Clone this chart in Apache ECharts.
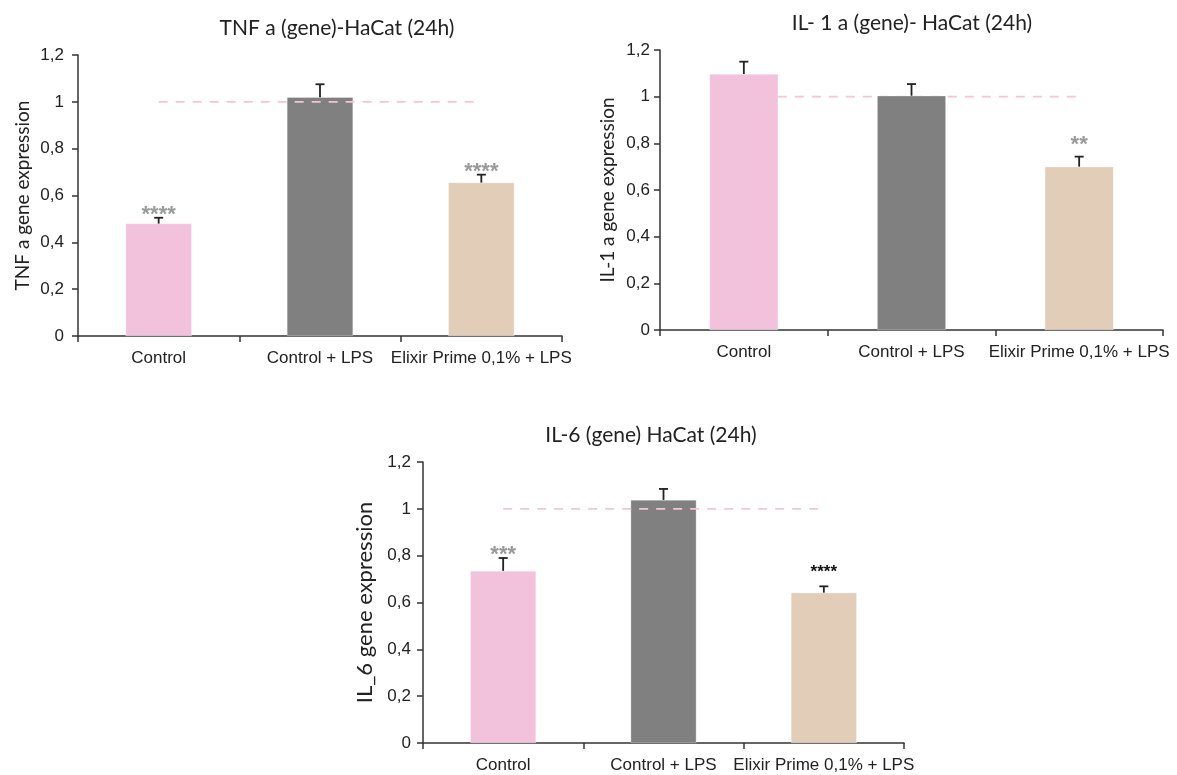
<!DOCTYPE html>
<html>
<head>
<meta charset="utf-8">
<script src="https://cdn.jsdelivr.net/npm/echarts@6/dist/echarts.min.js"></script>
<style>
html,body{margin:0;padding:0;background:#fff;}
#main{width:1177px;height:775px;}
</style>
</head>
<body>
<div id="main"></div>
<script>
// ---- data ----
const categories = ['Control', 'Control + LPS', 'Elixir Prime 0,1% + LPS'];
const yTickLabels = ['0', '0,2', '0,4', '0,6', '0,8', '1', '1,2'];
const refLevel = [1, 1, 1];

const tnfValues = [0.48, 1.02, 0.655];
const tnfErrors = [0.025, 0.055, 0.034];
const tnfSig = ['****', '', '****'];

const il1Values = [1.097, 1.004, 0.70];
const il1Errors = [0.053, 0.05, 0.043];
const il1Sig = ['', '', '**'];

const il6Values = [0.735, 1.038, 0.642];
const il6Errors = [0.055, 0.047, 0.027];
const il6Sig = ['***', '', '****'];

const titles = ['TNF a (gene)-HaCat (24h)', 'IL- 1 a (gene)- HaCat (24h)', 'IL-6 (gene) HaCat (24h)'];
const yNames = ['TNF a gene expression', 'IL-1 a gene expression', 'IL_6 gene expression'];

// ---- styles / layout ----
const barColors = ['#F2C1DC', '#808080', '#E2CDB8'];
const titleFont = 'Lato';
const labelFont = 'Liberation Sans';

const panels = [
  { values: tnfValues, errors: tnfErrors, sig: tnfSig,
    grid: { left: 78, right: 615, top: 55, bottom: 439 },
    title: { x: 332, y: 13 }, nameGap: 46, nameSize: 19, labelMargin: 14,
    starColors: ['#9a9a9a', '#9a9a9a', '#9a9a9a'], starSize: [22, 22, 22], starGap: [-8, -8, -8],
    refZ: 4 },
  { values: il1Values, errors: il1Errors, sig: il1Sig,
    grid: { left: 660, right: 14, top: 50, bottom: 445 },
    title: { x: 907, y: 8 }, nameGap: 43, nameSize: 19, labelMargin: 10,
    starColors: ['#9a9a9a', '#9a9a9a', '#9a9a9a'], starSize: [22, 22, 22], starGap: [-8, -8, 1],
    refZ: 1 },
  { values: il6Values, errors: il6Errors, sig: il6Sig,
    grid: { left: 423, right: 273, top: 462, bottom: 32 },
    title: { x: 646, y: 420 }, nameGap: 47, nameSize: 22, labelMargin: 12,
    starColors: ['#9a9a9a', '#9a9a9a', '#111111'], starSize: [22, 22, 17], starGap: [-8, -8, 6],
    refZ: 4 }
];

const option = {
  animation: false,
  backgroundColor: '#ffffff',
  title: [], grid: [], xAxis: [], yAxis: [], series: []
};

panels.forEach(function (p, k) {
  option.title.push({
    text: titles[k], left: p.title.x, top: p.title.y, textAlign: 'center',
    textStyle: { fontFamily: titleFont, fontSize: 21, fontWeight: 'normal', color: '#222' }
  });
  option.grid.push(Object.assign({ containLabel: false }, p.grid));
  option.xAxis.push({
    type: 'category', gridIndex: k, data: categories,
    axisLine: { lineStyle: { color: '#333', width: 1.5 } },
    axisTick: { show: true, length: 6, lineStyle: { color: '#333', width: 1.5 } },
    axisLabel: { interval: 0, margin: 14, fontFamily: labelFont, fontSize: 17, color: '#222' },
    splitLine: { show: false }
  });
  option.yAxis.push({
    type: 'value', gridIndex: k, min: 0, max: 1.2, interval: 0.2,
    name: yNames[k], nameLocation: 'middle', nameGap: p.nameGap,
    nameTextStyle: { fontFamily: titleFont, fontSize: p.nameSize, color: '#222' },
    axisLine: { show: true, lineStyle: { color: '#333', width: 1.5 } },
    axisTick: { show: true, length: 6, lineStyle: { color: '#333', width: 1.5 } },
    axisLabel: {
      margin: p.labelMargin, fontFamily: labelFont, fontSize: 17, color: '#222',
      formatter: function (v) { return yTickLabels[Math.round(v / 0.2)]; }
    },
    splitLine: { show: false }
  });
  option.series.push({
    type: 'bar', xAxisIndex: k, yAxisIndex: k, barWidth: '41%', z: 2,
    data: p.values.map(function (v, i) {
      return { value: v, itemStyle: { color: barColors[i], borderColor: 'rgba(255,255,255,0.6)', borderWidth: 0.5 } };
    })
  });
  option.series.push({
    type: 'line', xAxisIndex: k, yAxisIndex: k, data: refLevel, z: p.refZ,
    symbol: 'none', silent: true,
    lineStyle: { color: '#F6C2DC', width: 1.8, type: [9, 8] }
  });
  option.series.push({
    type: 'custom', xAxisIndex: k, yAxisIndex: k, z: 5, silent: true,
    data: p.values.map(function (v, i) { return [i, v, p.errors[i]]; }),
    renderItem: function (params, api) {
      const i = api.value(0), v = api.value(1), e = api.value(2);
      const b = api.coord([i, v]), t = api.coord([i, v + e]);
      const cap = 9;
      const st = { stroke: '#222', lineWidth: 1.8 };
      const children = [
        { type: 'line', shape: { x1: b[0], y1: b[1], x2: t[0], y2: t[1] }, style: st },
        { type: 'line', shape: { x1: t[0] - cap / 2, y1: t[1], x2: t[0] + cap / 2, y2: t[1] }, style: st }
      ];
      const s = p.sig[i];
      if (s) {
        children.push({
          type: 'text', x: t[0], y: t[1] - p.starGap[i],
          style: { text: s, fill: p.starColors[i], font: 'bold ' + p.starSize[i] + 'px "Liberation Sans"', align: 'center', verticalAlign: 'bottom' }
        });
      }
      return { type: 'group', children: children };
    }
  });
});

const chart = echarts.init(document.getElementById('main'), null, { renderer: 'canvas' });
chart.setOption(option);
</script>
</body>
</html>
